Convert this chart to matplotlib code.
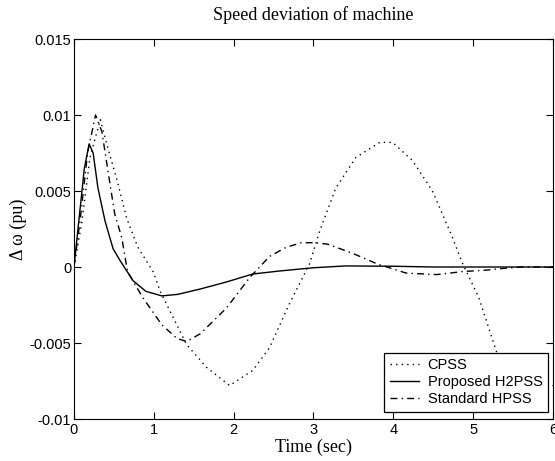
import numpy as np
import matplotlib
matplotlib.use("Agg")
import matplotlib.pyplot as plt

# values
t_h2 = [0, 0.03, 0.08, 0.13, 0.19, 0.24, 0.3, 0.39, 0.49, 0.58, 0.74, 0.9, 1.1, 1.3,
        1.58, 1.9, 2.24, 2.58, 3.0, 3.4, 4.0, 4.5, 5.0, 6.0]
w_h2 = [0, 0.0015, 0.004, 0.0065, 0.0081, 0.0075, 0.0052, 0.003, 0.0012, 0.0004, -0.0009,
        -0.0016, -0.0019, -0.0018, -0.00145, -0.001, -0.00046, -0.00026, -0.00005,
        0.00007, 0.00005, 0.0, 0.0, 0.0]

t_hp = [0, 0.08, 0.17, 0.27, 0.35, 0.45, 0.51, 0.6, 0.67, 0.86, 1.1, 1.29, 1.41, 1.58,
        1.91, 2.2, 2.45, 2.66, 2.85, 3.01, 3.18, 3.49, 3.8, 4.16, 4.54, 4.87, 5.18,
        5.36, 5.6, 6.0]
w_hp = [0, 0.0032, 0.0075, 0.01, 0.0089, 0.0055, 0.0035, 0.0019, -0.0003, -0.002,
        -0.0038, -0.0047, -0.0049, -0.0044, -0.0027, -0.0007, 0.0007, 0.0013, 0.0016,
        0.0016, 0.0015, 0.0009, 0.0002, -0.0004, -0.0005, -0.0003, -0.0002, -0.0001,
        0.0, 0.0]

t_cp = [0, 0.1, 0.2, 0.33, 0.41, 0.54, 0.66, 0.8, 0.99, 1.08, 1.41, 1.66, 1.95, 2.24,
        2.45, 2.7, 2.95, 3.08, 3.28, 3.53, 3.83, 3.99, 4.24, 4.49, 4.72, 4.87, 5.07,
        5.3, 5.55, 5.8, 6.0]
w_cp = [0, 0.003, 0.0072, 0.0097, 0.0081, 0.0057, 0.0032, 0.0013, -0.0003, -0.0016,
        -0.0051, -0.0066, -0.0078, -0.0068, -0.0053, -0.0024, 0.0002, 0.0024, 0.0052,
        0.0072, 0.0082, 0.0082, 0.007, 0.005, 0.0022, 0.0002, -0.002, -0.0057,
        -0.0072, -0.008, -0.0078]

xticks = [0, 1, 2, 3, 4, 5, 6]
yticks = [-0.01, -0.005, 0, 0.005, 0.01, 0.015]
ylabels = ["-0.01", "-0.005", "0", "0.005", "0.01", "0.015"]

fig = plt.figure(figsize=(5.55, 4.61), dpi=100)
ax = fig.add_axes([0.1333, 0.0911, 0.8631, 0.8243])

ax.plot(t_cp, w_cp, color="black", linestyle=(0, (1, 3)), linewidth=1, label="CPSS")
ax.plot(t_h2, w_h2, color="black", linestyle="-", linewidth=1, label="Proposed H2PSS")
ax.plot(t_hp, w_hp, color="black", linestyle=(0, (5, 3, 1, 3)), linewidth=1,
        label="Standard HPSS")

ax.set_xlim(0, 6)
ax.set_ylim(-0.01, 0.015)
ax.set_xticks(xticks)
ax.set_yticks(yticks)
ax.set_yticklabels(ylabels)
ax.tick_params(direction="in", top=True, right=True, labelsize=10.5, length=5, pad=3)
ax.tick_params(axis="y", pad=2)
for lab in ax.get_xticklabels() + ax.get_yticklabels():
    lab.set_family("Liberation Sans")

ax.set_title("Speed deviation of machine", family="Liberation Serif", fontsize=13, pad=14)
ax.set_xlabel("Time (sec)", family="Liberation Serif", fontsize=13, labelpad=1)
ax.set_ylabel("\u0394 \u03c9 (pu)", family="Liberation Serif", fontsize=13, labelpad=2)

leg = ax.legend(loc="lower right", bbox_to_anchor=(0.99, 0.018), borderaxespad=0,
                fancybox=False, edgecolor="black", framealpha=1, handlelength=2.0,
                prop={"family": "Liberation Sans", "size": 10.5}, labelspacing=0.2,
                borderpad=0.4, handletextpad=0.6)
leg.get_frame().set_linewidth(0.9)

fig.savefig("out.png", dpi=100)
